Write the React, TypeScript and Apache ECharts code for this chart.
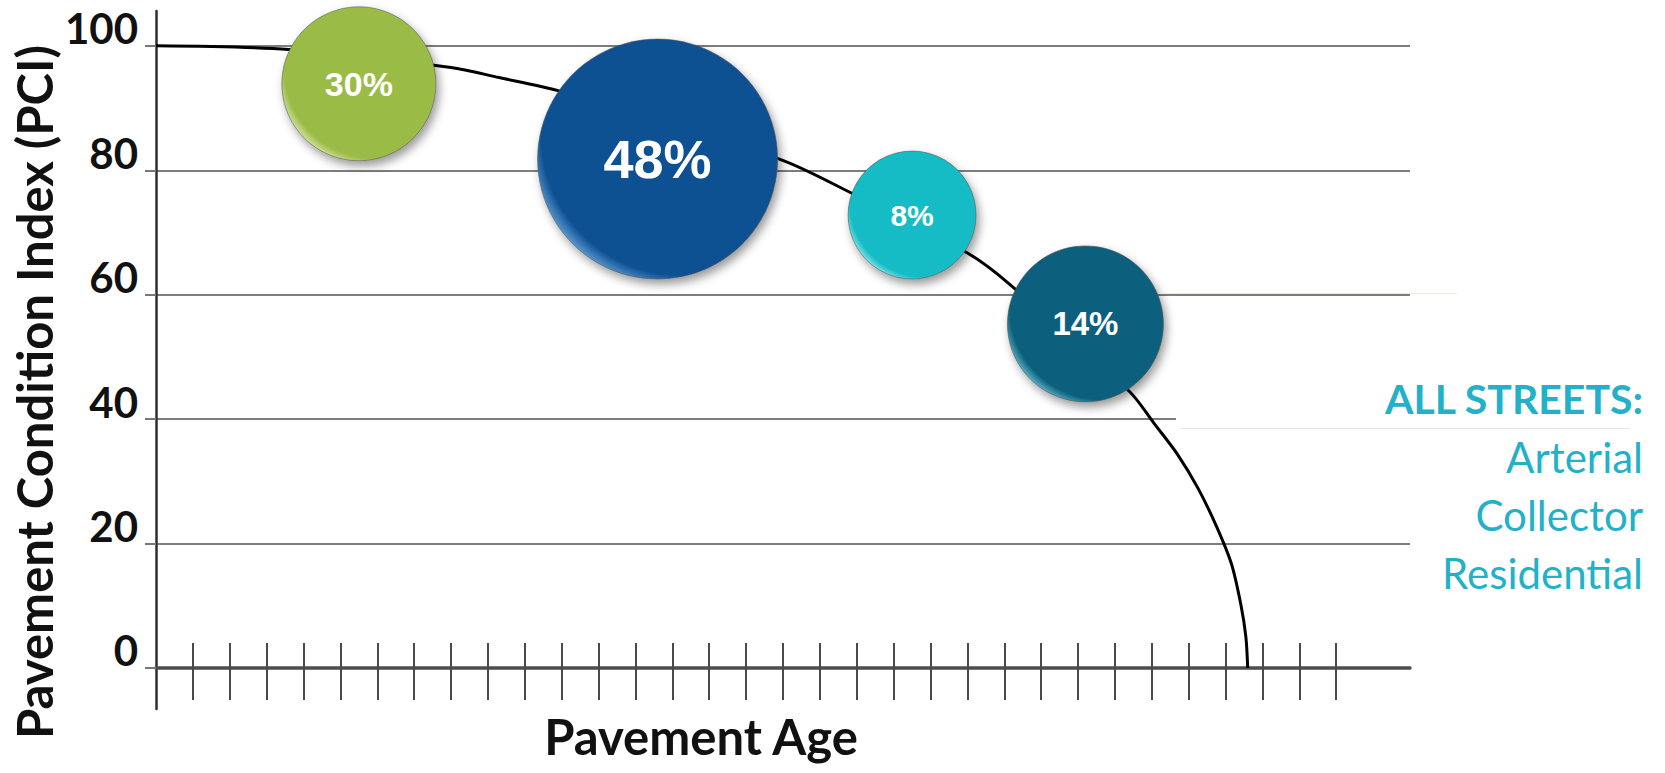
import React, { useEffect, useRef } from 'react';
import * as echarts from 'echarts';

// ---- data ----
const ageTicks = [1, 2, 3, 4, 5, 6, 7, 8, 9, 10, 11, 12, 13, 14, 15, 16, 17, 18, 19, 20, 21, 22, 23, 24, 25, 26, 27, 28, 29, 30, 31, 32];
const pciTicks = [0, 20, 40, 60, 80, 100];

const curveAge = [0, 3.6, 8.0, 9.3, 10.9, 16.9, 18.8, 22.0, 23.1, 26.4, 27.05, 27.7, 28.25, 28.75, 29.16, 29.42, 29.55, 29.6];
const curvePci = [100, 99.4, 96.5, 94.9, 92.8, 81.8, 76.5, 66.7, 61.9, 44.4, 39.4, 34.3, 28.9, 22.8, 16.7, 10, 5, 0];

const bubbleShare = [30, 48, 8, 14];
const bubbleAge = [5.5, 13.6, 20.5, 25.2];
const bubblePci = [93.9, 81.8, 72.8, 55.3];

const yTitle = 'Pavement Condition Index (PCI)';
const xTitle = 'Pavement Age';
const legendTitle = 'ALL STREETS:';
const streetTypes = ['Arterial', 'Collector', 'Residential'];

// ---- styles ----
const bubbleColors = ['#9bbb47', '#0e5193', '#13bcc5', '#0b617d'];
const bubbleRims = ['#f0f9d4', '#8cc6f5', '#c8f8fa', '#8fe0ef'];
const bubbleDiameters = [154, 240, 128, 156];
const bubbleFontSizes = [34, 54, 30, 33];
const teal = '#22b1c9';

export default function App() {
  const ref = useRef<HTMLDivElement>(null);

  useEffect(() => {
    if (!ref.current) return;
    const chart = echarts.init(ref.current, null, { renderer: 'svg' });

    const bubbleData = bubbleAge.map((a, i) => ({
      value: [a, bubblePci[i], bubbleShare[i]],
      symbolSize: bubbleDiameters[i],
      itemStyle: {
        opacity: 1,
        color: new echarts.graphic.RadialGradient(0.6, 0.4, 0.68, [
          { offset: 0, color: bubbleColors[i] },
          { offset: 0.86, color: bubbleColors[i] },
          { offset: 1, color: bubbleRims[i] },
        ]),
        borderColor: 'rgba(80,80,80,0.55)',
        borderWidth: 1,
        shadowBlur: 10,
        shadowColor: 'rgba(0,0,0,0.4)',
        shadowOffsetX: 3,
        shadowOffsetY: 5,
      },
      label: { fontSize: bubbleFontSizes[i] },
    }));

    const xBase = {
      type: 'value',
      min: 0,
      max: 34,
      position: 'bottom',
      axisLabel: { show: false },
      splitLine: { show: false },
    };

    chart.setOption({
      animation: false,
      grid: { left: 156, top: 11, width: 1254, height: 698 },
      xAxis: [
        {
          ...xBase,
          axisLine: {
            show: true,
            onZero: true,
            onZeroAxisIndex: 0,
            lineStyle: { color: '#4d4d4d', width: 3.5 },
          },
          axisTick: {
            show: true,
            customValues: ageTicks,
            length: 32,
            inside: false,
            lineStyle: { color: '#4a4a4a', width: 2 },
          },
        },
        {
          ...xBase,
          axisLine: {
            show: true,
            onZero: true,
            onZeroAxisIndex: 0,
            lineStyle: { color: '#4d4d4d', width: 3.5, opacity: 0 },
          },
          axisTick: {
            show: true,
            customValues: ageTicks,
            length: 25,
            inside: true,
            lineStyle: { color: '#4a4a4a', width: 2 },
          },
        },
      ],
      yAxis: {
        type: 'value',
        min: -6.6,
        max: 105.6,
        axisLine: { show: true, onZero: false, lineStyle: { color: '#2e2e2e', width: 2.5 } },
        axisTick: {
          show: true,
          customValues: pciTicks,
          length: 11,
          lineStyle: { color: '#777', width: 2 },
        },
        axisLabel: {
          customValues: pciTicks,
          margin: 18,
          fontFamily: 'Lato',
          fontWeight: 'bold',
          fontSize: 42,
          color: '#111',
          verticalAlign: 'bottom',
          lineHeight: 35,
        },
        splitLine: { show: true, lineStyle: { color: '#7d7d7d', width: 2 } },
      },
      series: [
        {
          type: 'line',
          xAxisIndex: 0,
          yAxisIndex: 0,
          data: curveAge.map((a, i) => [a, curvePci[i]]),
          smooth: 0.3,
          symbol: 'none',
          showSymbol: false,
          lineStyle: { color: '#000', width: 3 },
          z: 2,
        },
        {
          type: 'scatter',
          xAxisIndex: 0,
          yAxisIndex: 0,
          clip: false,
          data: bubbleData,
          label: {
            show: true,
            position: 'inside',
            formatter: (p: any) => p.value[2] + '%',
            color: '#fff',
            opacity: 1,
            fontWeight: 'bold',
            fontFamily: 'Liberation Sans, Arial, sans-serif',
          },
          z: 3,
        },
      ],
      graphic: [
        {
          type: 'rect',
          z: 5,
          shape: { x: 1176, y: 302, width: 470, height: 126 },
          style: { fill: '#fff' },
        },
        {
          type: 'line',
          z: 6,
          shape: { x1: 1180, y1: 428.5, x2: 1630, y2: 428.5 },
          style: { stroke: '#ece4e2', lineWidth: 1 },
        },
        {
          type: 'line',
          z: 6,
          shape: { x1: 1160, y1: 293.5, x2: 1457, y2: 293.5 },
          style: { stroke: '#f1e9e0', lineWidth: 1 },
        },
        {
          type: 'text',
          z: 10,
          x: 34,
          y: 392,
          rotation: Math.PI / 2,
          style: {
            text: yTitle,
            font: 'bold 49px Lato',
            fill: '#111',
            align: 'center',
            verticalAlign: 'middle',
          },
        },
        {
          type: 'text',
          z: 10,
          x: 701,
          y: 736,
          style: {
            text: xTitle,
            font: 'bold 49px Lato',
            fill: '#111',
            align: 'center',
            verticalAlign: 'middle',
          },
        },
        {
          type: 'text',
          z: 10,
          x: 1643,
          y: 398,
          style: {
            text: legendTitle,
            font: 'bold 41px Lato',
            fill: teal,
            align: 'right',
            verticalAlign: 'middle',
          },
        },
        ...streetTypes.map((t, i) => ({
          type: 'text',
          z: 10,
          x: 1643,
          y: 457 + i * 58,
          style: {
            text: t,
            font: '42px Lato',
            fill: teal,
            align: 'right',
            verticalAlign: 'middle',
          },
        })),
      ],
    });

    return () => chart.dispose();
  }, []);

  return (
    <div
      ref={ref}
      style={{ position: 'absolute', left: 0, top: 0, width: 1665, height: 773, background: '#fff' }}
    />
  );
}
